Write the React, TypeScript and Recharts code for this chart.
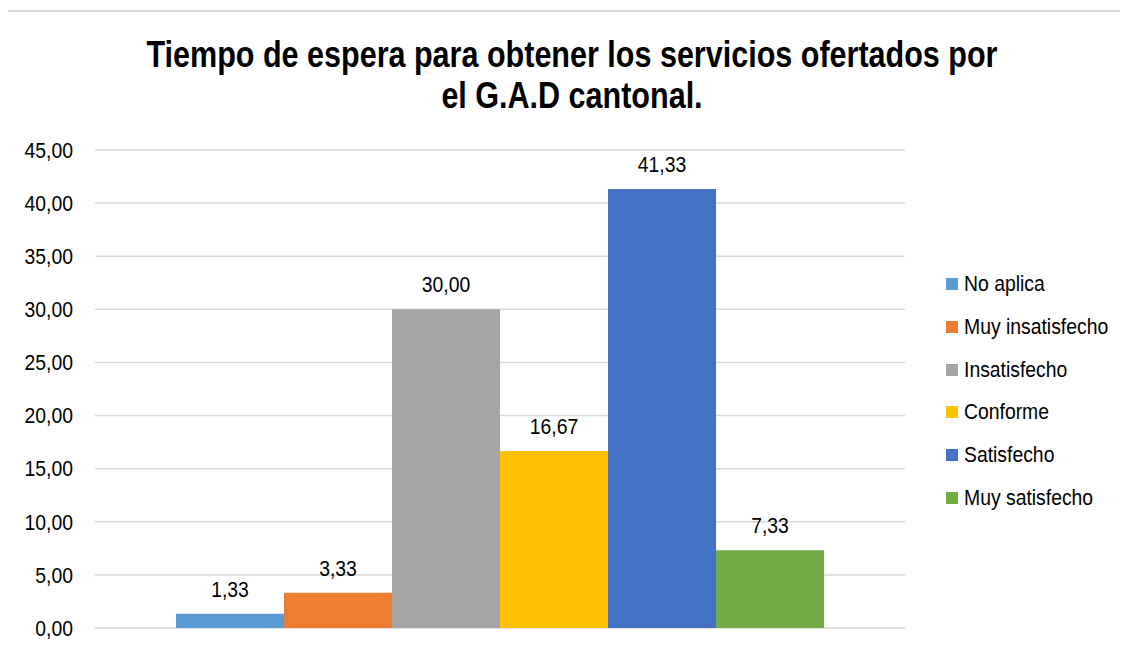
import React from "react";
import { BarChart, Bar, XAxis, YAxis, CartesianGrid, LabelList } from "recharts";

const titleLines = ["Tiempo de espera para obtener los servicios ofertados por", "el G.A.D cantonal."];
const categories = [""];
const seriesNames = ["No aplica", "Muy insatisfecho", "Insatisfecho", "Conforme", "Satisfecho", "Muy satisfecho"];
const seriesValues = [1.33, 3.33, 30.0, 16.67, 41.33, 7.33];
const seriesColors = ["#5B9BD5", "#ED7D31", "#A5A5A5", "#FFC000", "#4472C4", "#70AD47"];
const yTicks = [0, 5, 10, 15, 20, 25, 30, 35, 40, 45];

const data = categories.map((c) => {
  const row: Record<string, number | string> = { name: c };
  seriesNames.forEach((s, i) => {
    row[s] = seriesValues[i];
  });
  return row;
});

const FONT = "'Liberation Sans', Arial, sans-serif";
const NARROW = 0.88;
const fmt = (v: number) => Number(v).toFixed(2).replace(".", ",");

const YTick = (props: any) => {
  const { x, y, payload } = props;
  return (
    <text
      transform={`translate(${x},${y}) scale(${NARROW},1)`}
      textAnchor="end"
      dy="0.355em"
      fill="#000"
      fontSize={22}
      fontFamily={FONT}
    >
      {fmt(payload.value)}
    </text>
  );
};

const BarLabel = (props: any) => {
  const { x, y, width, value } = props;
  const cx = x + width / 2;
  return (
    <text
      transform={`translate(${cx},${y - 17}) scale(${NARROW},1)`}
      textAnchor="middle"
      fill="#000"
      fontSize={22}
      fontFamily={FONT}
    >
      {fmt(value)}
    </text>
  );
};

export default function App() {
  return (
    <div style={{ position: "relative", margin: -8, width: 1128, height: 652, overflow: "hidden", background: "#fff" }}>
      <div
        style={{
          position: "absolute",
          left: 6,
          top: 10,
          width: 1300,
          height: 800,
          borderTop: "2px solid #d9d9d9",
          borderLeft: "2px solid #d9d9d9",
        }}
      />
      {titleLines.map((t, i) => (
        <div
          key={i}
          style={{
            position: "absolute",
            left: 572 - 600,
            width: 1200,
            top: 34 + i * 41,
            textAlign: "center",
            fontFamily: FONT,
            fontWeight: "bold",
            fontSize: 37,
            lineHeight: "42px",
            color: "#000",
            whiteSpace: "nowrap",
            transform: "scaleX(0.825)",
            transformOrigin: "600px 0",
          }}
        >
          {t}
        </div>
      ))}
      <div style={{ position: "absolute", left: 0, top: 0 }}>
        <BarChart
          width={1128}
          height={652}
          data={data}
          margin={{ top: 150, right: 223, bottom: 24, left: 0 }}
          barCategoryGap="10%"
          barGap={0}
        >
          <CartesianGrid vertical={false} stroke="#d9d9d9" strokeWidth={1.5} />
          <XAxis dataKey="name" hide />
          <YAxis
            width={95}
            domain={[0, 45]}
            ticks={yTicks}
            axisLine={false}
            tickLine={false}
            tickSize={0}
            tickMargin={22}
            tick={<YTick />}
            interval={0}
          />
          {seriesNames.map((s, i) => (
            <Bar key={s} dataKey={s} fill={seriesColors[i]} isAnimationActive={false}>
              <LabelList dataKey={s} content={<BarLabel />} />
            </Bar>
          ))}
        </BarChart>
      </div>
      {seriesNames.map((s, i) => (
        <div
          key={s}
          style={{
            position: "absolute",
            left: 946,
            top: 284 - 21.4 + i * 42.8,
            height: 42.8,
            display: "flex",
            alignItems: "center",
            fontFamily: FONT,
            fontSize: 22,
            color: "#000",
            whiteSpace: "nowrap",
          }}
        >
          <div style={{ width: 12, height: 12, background: seriesColors[i], marginRight: 6, flex: "none" }} />
          <span style={{ display: "inline-block", transform: `scaleX(${NARROW})`, transformOrigin: "0 50%" }}>{s}</span>
        </div>
      ))}
    </div>
  );
}
